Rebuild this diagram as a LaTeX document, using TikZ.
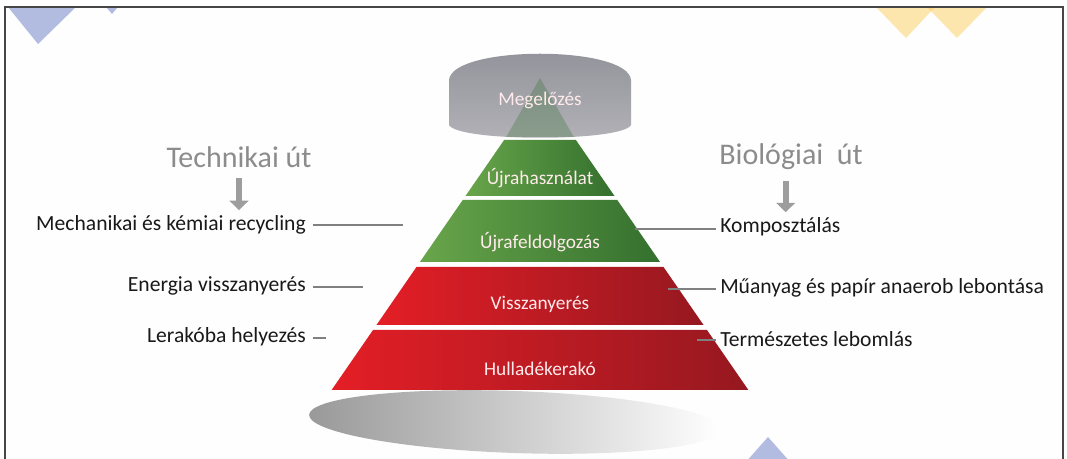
\documentclass[tikz,border=0pt]{standalone}
\usepackage{fontspec}
\setmainfont{Carlito}
\usetikzlibrary{arrows.meta}

\definecolor{frameGray}{RGB}{70,70,70}
\definecolor{headGray}{RGB}{140,140,140}
\definecolor{leadGray}{RGB}{128,128,128}
\definecolor{greenL}{RGB}{104,165,74}
\definecolor{greenR}{RGB}{52,112,46}
\definecolor{redL}{RGB}{228,30,38}
\definecolor{redR}{RGB}{150,24,32}
\definecolor{capGray}{RGB}{145,145,153}
\definecolor{decoBlue}{RGB}{178,188,224}
\definecolor{decoYellow}{RGB}{253,205,95}

\begin{document}
\begin{tikzpicture}[x=0.75pt,y=-0.75pt,
    lbl/.style={font=\fontsize{16.2}{19}\selectfont, text=black!90, inner sep=3pt},
    heading/.style={font=\fontsize{22.5}{26}\selectfont, text=headGray, inner sep=2pt},
    tierlbl/.style={font=\fontsize{14.5}{17}\selectfont, text=white!92!red, inner sep=0pt},
    leader/.style={draw=leadGray, line width=0.8pt},
    patharrow/.style={draw=headGray!85, line width=4.5pt, -{Triangle[width=14pt,length=7pt]}, shorten <=6pt, shorten >=1pt},
    deco/.style={fill=#1, draw=none}]
  \useasboundingbox (0,0) rectangle (1067,459);
  \clip (0,0) rectangle (1067,459);
  \fill[white!99!gray] (0,0) rectangle (1067,459);

  \fill[deco=decoBlue] (8,7) -- (76,7) -- (38,44) -- cycle;
  \fill[deco=decoBlue] (106,7) -- (118,7) -- (112,14) -- cycle;
  \fill[deco=decoYellow, fill opacity=0.5] (876,7) -- (935,7) -- (906,38) -- cycle;
  \fill[deco=decoYellow, fill opacity=0.5] (927,7) -- (987,7) -- (957,38) -- cycle;
  \fill[deco=decoBlue] (768,437) -- (806,480) -- (730,480) -- cycle;

  \draw[frameGray, line width=1.2pt] (5,470) -- (5,7) -- (1063,7) -- (1063,470);

  % shadow under the pyramid
  \shade[left color=gray!80, right color=white, rotate around={-2:(515,422)}]
    (515,422) ellipse [x radius=206, y radius=31];

  \foreach \ya/\yb/\cl/\cr in {140/196/greenL/greenR, 200/262/greenL/greenR, 267/325/redL/redR, 330/390/redL/redR}
    \shade[left color=\cl, right color=\cr]
      ({540-0.69*(\ya-88)},\ya) -- ({540+0.69*(\ya-88)},\ya) -- ({540+0.69*(\yb-88)},\yb) -- ({540-0.69*(\yb-88)},\yb) -- cycle;

  \shade[top color=capGray, bottom color=capGray!70]
    (449,125) -- (449,80) .. controls (452,45) and (628,45) .. (631,80) -- (631,125) .. controls (622,142) and (458,142) .. (449,125) -- cycle;
  % tip of the pyramid seen through the grey cap
  \fill[greenR, fill opacity=0.3] (540,78) -- ({540+0.69*(137-88)},137) -- ({540-0.69*(137-88)},137) -- cycle;

  \node[tierlbl] (prev) at (540,100) {Megelőzés};
  \node[tierlbl] (reuse) at (540,178) {Újrahasználat};
  \node[tierlbl] (recyc) at (540,242) {Újrafeldolgozás};
  \node[tierlbl] (recov) at (540,304) {Visszanyerés};
  \node[tierlbl] (landf) at (540,369) {Hulladékerakó};

  \node[heading] (tech) at (239,157) {Technikai út};
  \node[heading] (bio) at (791,157) {Biológiai~ út};

  \node[lbl, anchor=east] (mech) at (310,225) {Mechanikai és kémiai recycling};
  \node[lbl, anchor=east] (energy) at (310,286) {Energia visszanyerés};
  \node[lbl, anchor=east] (depot) at (310,337) {Lerakóba helyezés};
  \node[lbl, anchor=west] (kompo) at (716,227) {Komposztálás};
  \node[lbl, anchor=west] (anaer) at (716,288) {Műanyag és papír anaerob lebontása};
  \node[lbl, anchor=west] (decay) at (716,339) {Természetes lebomlás};

  \coordinate (mechEnd) at (403,225);
  \coordinate (energyEnd) at (363,287);
  \coordinate (depotEnd) at (326,338);
  \coordinate (kompoStart) at (635,229);
  \coordinate (anaerStart) at (668,289);
  \coordinate (decayStart) at (697,340);

  \draw[leader] ([xshift=2pt]mech.east |- mechEnd) -- (mechEnd);
  \draw[leader] ([xshift=2pt]energy.east |- energyEnd) -- (energyEnd);
  \draw[leader] ([xshift=2pt]depot.east |- depotEnd) -- (depotEnd);
  \draw[leader] (kompoStart) -- (kompo.west |- kompoStart);
  \draw[leader] (anaerStart) -- (anaer.west |- anaerStart);
  \draw[leader] (decayStart) -- (decay.west |- decayStart);

  \draw[patharrow] (tech.south) -- (tech.south |- mech.north);
  \draw[patharrow] ([xshift=-4pt]bio.south) -- ([xshift=-4pt]bio.south |- kompo.north);
\end{tikzpicture}
\end{document}
